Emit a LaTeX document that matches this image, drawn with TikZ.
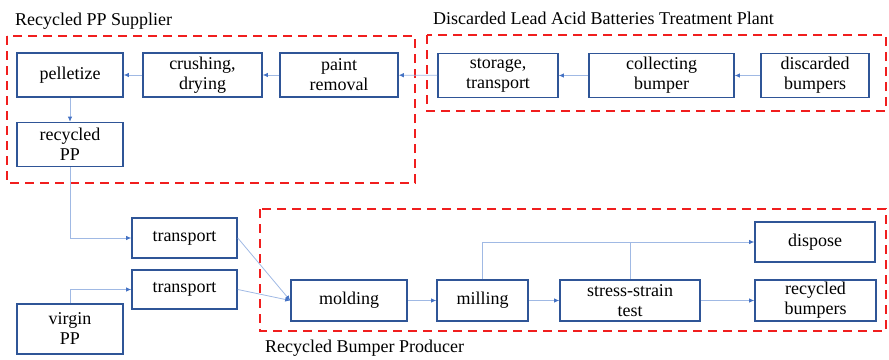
\documentclass[tikz,border=0pt]{standalone}
\usepackage{fontspec}
\setmainfont{Liberation Serif}
\usetikzlibrary{arrows.meta}
\definecolor{boxblue}{RGB}{47,85,151}
\definecolor{lineblue}{RGB}{160,185,228}
\definecolor{tipblue}{RGB}{68,114,196}
\definecolor{zonered}{RGB}{240,30,30}

\begin{document}
\begin{tikzpicture}[x=1pt,y=-1pt,
        proc/.style={draw=boxblue,line width=1.6pt,align=center,inner sep=1pt,
            minimum height=44pt,font=\fontsize{18}{20}\selectfont},
        flow/.style={draw=lineblue,line width=0.8pt,-{Latex[length=5pt,width=4.5pt,color=tipblue]}},
        zone/.style={draw=zonered,line width=1.8pt,dash pattern=on 9pt off 6pt},
        zonelabel/.style={anchor=base west,inner sep=0pt,font=\fontsize{18}{20}\selectfont}]
    \useasboundingbox (0,0) rectangle (889,359);
    % dashed zones
    \draw[zone] (7,36) rectangle (415,183);
    \draw[zone] (427,35) rectangle (886,111);
    \draw[zone] (260,209) rectangle (886,331);
    \node[zonelabel] (supplier) at (15,25) {Recycled PP Supplier};
    \node[zonelabel] (plant) at (433,24) {Discarded Lead Acid Batteries Treatment Plant};
    \node[zonelabel] (producer) at (265,352) {Recycled Bumper Producer};
    % process boxes
    \node[proc,minimum width=106pt] (pellet) at (70,75) {pelletize};
    \node[proc,minimum width=119pt] (crush) at (202.5,75) {crushing,\\drying};
    \node[proc,minimum width=118pt] (paint) at (339,75) {paint\\removal};
    \node[proc,minimum width=120pt] (store) at (498,75.5) {storage,\\transport};
    \node[proc,minimum width=145pt] (collect) at (661.5,75.5) {collecting\\bumper};
    \node[proc,minimum width=108pt] (discard) at (815,75.5) {discarded\\bumpers};
    \node[proc,minimum width=106pt] (rpp) at (70,144.5) {recycled\\PP};
    \node[proc,minimum width=105pt,minimum height=40pt] (trans1) at (184.5,238) {transport};
    \node[proc,minimum width=105pt,minimum height=39pt] (trans2) at (184.5,289.5) {transport};
    \node[proc,minimum width=106pt,minimum height=50pt] (virgin) at (70,329) {virgin\\PP};
    \node[proc,minimum width=116pt,minimum height=41pt] (mold) at (349,300.5) {molding};
    \node[proc,minimum width=91pt,minimum height=41pt] (mill) at (482.5,300.5) {milling};
    \node[proc,minimum width=140pt,minimum height=41pt] (test) at (630,300.5) {stress-strain\\test};
    \node[proc,minimum width=120pt,minimum height=40pt] (dispose) at (815,242) {dispose};
    \node[proc,minimum width=121pt,minimum height=41pt] (rbump) at (815.5,300.5) {recycled\\bumpers};
    % connectors
    \draw[flow] (discard) -- (collect);
    \draw[flow] (collect) -- (store);
    \draw[flow] (store) -- (paint);
    \draw[flow] (paint) -- (crush);
    \draw[flow] (crush) -- (pellet);
    \draw[flow] (pellet) -- (rpp);
    \draw[flow] (rpp) |- (trans1);
    \draw[flow] (virgin) |- (trans2);
    \draw[flow] (trans1.east) -- (mold.west);
    \draw[flow] (trans2.east) -- (mold.west);
    \draw[flow] (mold) -- (mill);
    \draw[flow] (mill) -- (test);
    \draw[flow] (test) -- (rbump);
    \draw[flow] (mill) |- (dispose);
    \draw[draw=lineblue,line width=0.8pt] (test.north) -- (test.north |- dispose.west);
\end{tikzpicture}
\end{document}
